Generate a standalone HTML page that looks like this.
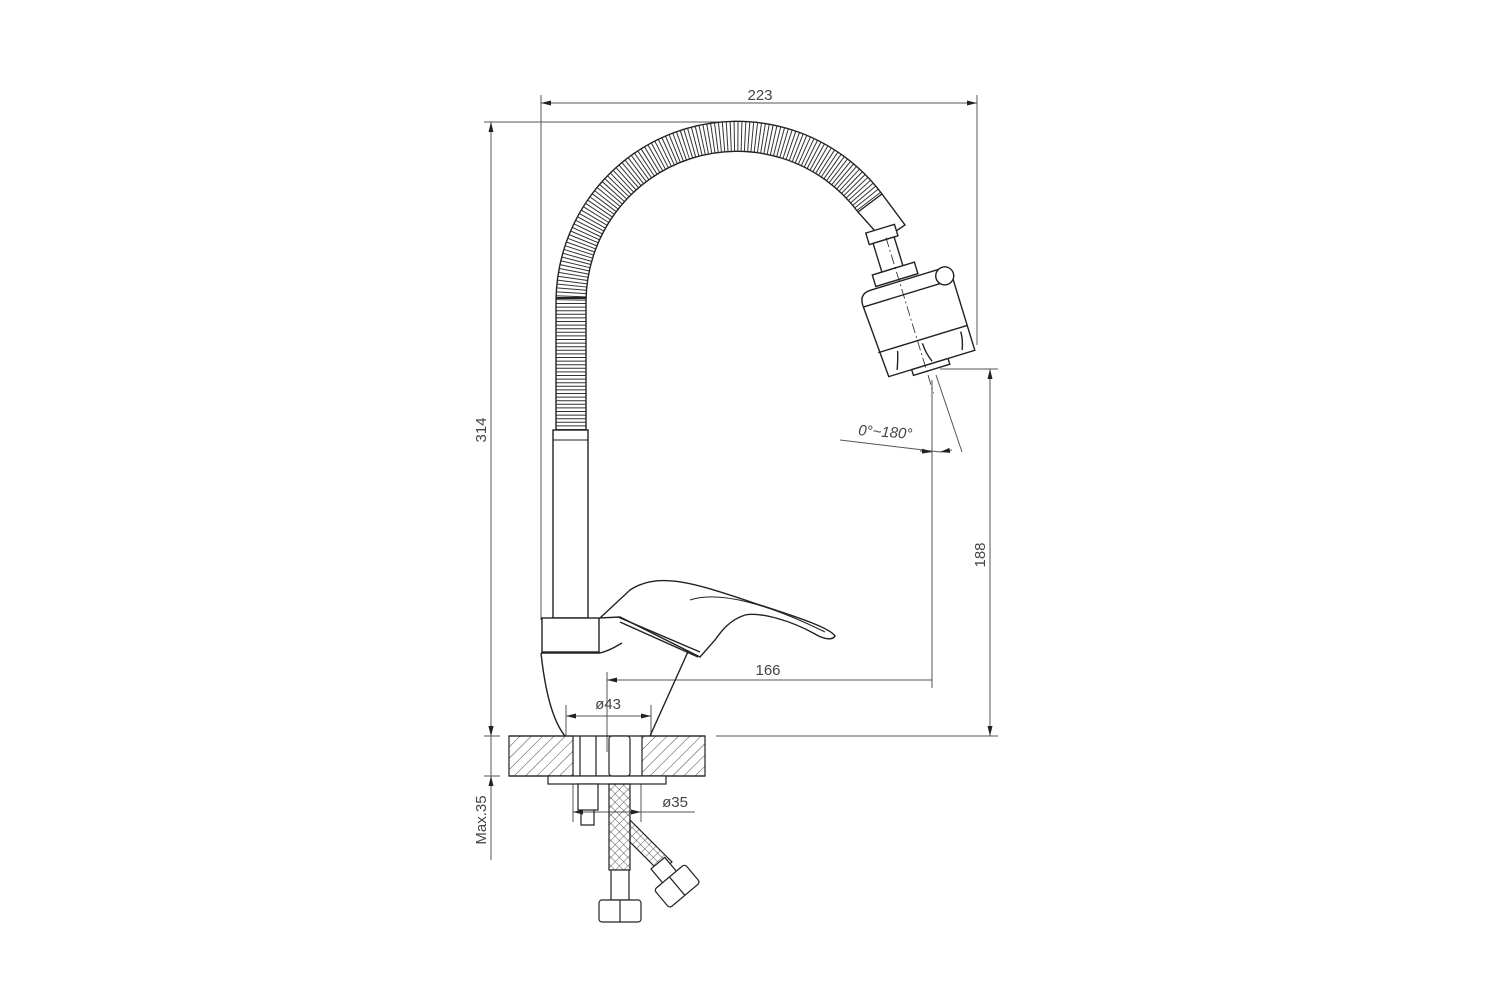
<!DOCTYPE html>
<html><head><meta charset="utf-8"><style>html,body{margin:0;padding:0;background:#fff}svg{display:block}</style></head>
<body>
<svg width="1500" height="1000" viewBox="0 0 1500 1000" xmlns="http://www.w3.org/2000/svg" font-family="Liberation Sans, sans-serif">
<defs>
<pattern id="hatch" width="8" height="8" patternUnits="userSpaceOnUse" patternTransform="rotate(45)"><line x1="0" y1="0" x2="0" y2="8" stroke="#333" stroke-width="0.9"/></pattern>
<pattern id="mesh" width="6" height="6" patternUnits="userSpaceOnUse" patternTransform="rotate(45)"><path d="M0 0H6M0 0V6" stroke="#333" stroke-width="0.8" fill="none"/></pattern>
<marker id="a" viewBox="0 0 10 10" refX="10" refY="5" markerWidth="10" markerHeight="10" orient="auto-start-reverse" markerUnits="userSpaceOnUse"><path d="M0 2.5L10 5L0 7.5z" fill="#222"/></marker>
</defs>
<g stroke="#555" stroke-width="1" fill="none">
<line x1="541" y1="95" x2="541" y2="620"/><line x1="977" y1="95" x2="977" y2="345"/>
<line x1="541" y1="103" x2="977" y2="103" marker-start="url(#a)" marker-end="url(#a)"/>
<line x1="484" y1="122" x2="720" y2="122"/>
<line x1="491" y1="122" x2="491" y2="736" marker-start="url(#a)" marker-end="url(#a)"/>
<line x1="484" y1="736" x2="500" y2="736"/><line x1="484" y1="776" x2="500" y2="776"/>
<line x1="491" y1="736" x2="491" y2="860"/>
<line x1="491" y1="716" x2="491" y2="736" marker-end="url(#a)"/>
<line x1="491" y1="796" x2="491" y2="776" marker-end="url(#a)"/>
<line x1="716" y1="736" x2="998" y2="736"/>
<line x1="940" y1="369" x2="998" y2="369"/>
<line x1="990" y1="369" x2="990" y2="736" marker-start="url(#a)" marker-end="url(#a)"/>
<line x1="932" y1="380" x2="932" y2="688"/>
<line x1="607" y1="680" x2="932" y2="680" marker-start="url(#a)"/>
<line x1="607" y1="672" x2="607" y2="752"/>
<line x1="936" y1="375" x2="962" y2="452"/>
<path d="M840 440 L940 452"/>
<line x1="920" y1="451" x2="932" y2="452" marker-end="url(#a)"/>
<line x1="952" y1="450" x2="940" y2="452" marker-end="url(#a)"/>
<line x1="566" y1="705" x2="566" y2="736"/><line x1="651" y1="705" x2="651" y2="736"/>
<line x1="566" y1="716" x2="651" y2="716" marker-start="url(#a)" marker-end="url(#a)"/>
<line x1="573" y1="780" x2="573" y2="822"/><line x1="641" y1="780" x2="641" y2="822"/>
<line x1="573" y1="812" x2="695" y2="812"/>
<line x1="583" y1="812" x2="573" y2="812" marker-end="url(#a)"/>
<line x1="631" y1="812" x2="641" y2="812" marker-end="url(#a)"/>
</g>
<g fill="#444" font-size="15">
<text x="760" y="100" text-anchor="middle">223</text>
<text x="768" y="675" text-anchor="middle">166</text>
<text x="608" y="709" text-anchor="middle">ø43</text>
<text x="675" y="807" text-anchor="middle">ø35</text>
<text x="885" y="437" text-anchor="middle" font-style="italic" transform="rotate(4 885 437)">0°~180°</text>
<text transform="translate(486 430) rotate(-90)" text-anchor="middle">314</text>
<text transform="translate(486 820) rotate(-90)" text-anchor="middle">Max.35</text>
<text transform="translate(985 555) rotate(-90)" text-anchor="middle">188</text>
</g>
<g stroke="#222" stroke-width="1.2">
<rect x="509" y="736" width="64" height="40" fill="url(#hatch)"/>
<rect x="642" y="736" width="63" height="40" fill="url(#hatch)"/>
<line x1="509" y1="736" x2="705" y2="736"/><line x1="509" y1="776" x2="705" y2="776"/>
<rect x="548" y="776" width="118" height="8" fill="#fff"/>
<line x1="580" y1="736" x2="580" y2="776"/><line x1="596" y1="736" x2="596" y2="776"/>
<rect x="578" y="784" width="20" height="26" fill="#fff"/>
<path d="M581 810 V825 H594 V810" fill="none"/>
<rect x="609" y="736" width="21" height="40" fill="#fff" rx="3"/>
<rect x="609" y="784" width="21" height="86" fill="url(#mesh)"/>
<path d="M630 820 L672 862 L660 872 L630 842z" fill="url(#mesh)"/>
<rect x="611" y="870" width="18" height="30" fill="#fff"/>
<rect x="599" y="900" width="42" height="22" fill="#fff" rx="3"/>
<line x1="620" y1="900" x2="620" y2="922"/>
<g transform="rotate(-40 672 880)"><rect x="663" y="858" width="18" height="20" fill="#fff"/><rect x="652" y="876" width="40" height="24" fill="#fff" rx="3"/><line x1="672" y1="876" x2="672" y2="900"/></g>
</g>
<g fill="none" stroke="#222">
<path d="M571 430 V301 A166 166 0 0 1 870 203" stroke-width="30" stroke-dasharray="1 2.6" stroke="#333"/>
<path d="M556 430 V301 A181 181 0 0 1 882 194" stroke-width="1.4"/>
<path d="M586 430 V301 A151 151 0 0 1 858 212" stroke-width="1.4"/>
<line x1="556" y1="298" x2="586" y2="298" stroke-width="2"/>
<rect x="553" y="430" width="35" height="188" stroke-width="1.4" fill="#fff"/>
<line x1="553" y1="440" x2="588" y2="440"/>
<rect x="542" y="618" width="57" height="34" stroke-width="1.4" fill="#fff"/>
<path d="M541 653 C545 690 552 720 565 736 M650 736 L700 625" stroke-width="1.4"/>
<path d="M541 653 L600 653 C612 650 618 645 622 643" stroke-width="1.4"/>
<path d="M600 618 L630 590 C660 570 700 585 760 605 C800 618 830 628 835 636 C833 640 825 640 815 634 C790 620 760 612 745 615 C730 620 722 630 715 640 L700 657 L620 617z" stroke-width="1.4" fill="#fff"/>
<path d="M618 617 L700 652 M620 622 L698 657" stroke-width="1.4"/>
<path d="M690 600 C720 590 770 605 825 632" stroke-width="1.1"/>
</g>
<g fill="#fff" stroke="#222" stroke-width="1.4" transform="rotate(-17 917 322)">
<path d="M858 212 L882 194 L905 225 L883 240z" transform="rotate(17 917 322)"/>
<rect x="894" y="222" width="30" height="12"/>
<rect x="898" y="234" width="22" height="30"/>
<rect x="888" y="264" width="44" height="12"/>
<path d="M870 290 Q870 278 882 278 L955 278 Q964 278 964 288 L964 366 L874 366 L870 290z"/>
<line x1="870" y1="292" x2="964" y2="292"/>
<line x1="871" y1="340" x2="964" y2="340"/>
<rect x="898" y="366" width="38" height="6"/>
<circle cx="957" cy="286" r="9"/>
<path d="M884 362 Q888 352 890 344 M920 364 Q916 354 916 344 M952 362 Q956 352 956 344" fill="none"/>
<line x1="912" y1="232" x2="912" y2="395" stroke-dasharray="10 3 2 3" stroke-width="0.8" fill="none"/>
</g>
</svg>
</body></html>
